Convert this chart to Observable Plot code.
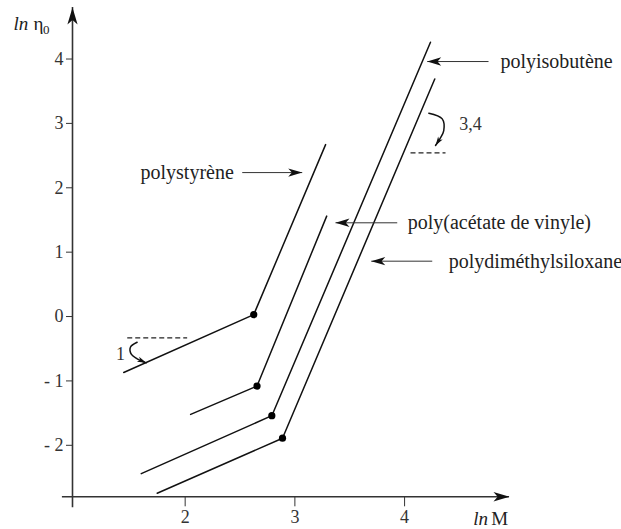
<!DOCTYPE html>
<html><head><meta charset="utf-8">
<script src="https://cdn.jsdelivr.net/npm/d3@7"></script>
<script src="https://cdn.jsdelivr.net/npm/@observablehq/plot@0.6"></script>
<style>body{margin:0;background:#fff}</style>
</head><body><div id="chart"></div>
<script>
// ---- data (ln M, ln eta0) ----
const polymers   = ["polystyrène", "poly(acétate de vinyle)", "polyisobutène", "polydiméthylsiloxane"];
const startLnM   = [1.44, 2.05, 1.60, 1.745];
const startLnEta = [-0.87, -1.52, -2.44, -2.745];
const kneeLnM    = [2.625, 2.655, 2.79, 2.887];
const kneeLnEta  = [0.03, -1.08, -1.54, -1.89];
const endLnM     = [3.28, 3.29, 4.236, 4.275];
const endLnEta   = [2.67, 1.56, 4.26, 3.69];

// label positions (data units)
const labelLnM      = [1.593, 4.029, 4.874, 4.403];
const labelLnEta    = [2.236, 1.456, 3.961, 0.860];
const arrowTailLnM  = [2.520, 3.933, 4.765, 4.252];
const arrowTipLnM   = [3.067, 3.370, 4.206, 3.696];

// ticks
const yTicks = [-2, -1, 0, 1, 2, 3, 4];
const xTicks = [2, 3, 4];

// slope annotations
const slopeLabels     = ["1", "3,4"];
const slopeLabelLnM   = [1.41, 4.60];
const slopeLabelLnEta = [-0.579, 2.994];
const dashFromLnM = [1.472, 4.054];
const dashToLnM   = [2.018, 4.373];
const dashLnEta   = [-0.330, 2.543];
const curve1LnM   = [1.562, 1.501, 1.510, 1.562, 1.645];
const curve1LnEta = [-0.399, -0.476, -0.589, -0.656, -0.719];
const curve2LnM   = [4.221, 4.343, 4.357, 4.323, 4.282];
const curve2LnEta = [3.158, 3.071, 2.889, 2.765, 2.657];

// axes extent
const xDomain = [0.973, 5.0];
const yDomain = [-2.8, 4.75];
const xAxisExtent = [0.881, 4.956];
const yAxisExtent = [-2.97, 4.80];

// ---- layout ----
const W = 621, H = 529, ML = 72, MR = 107.2, MT = 10.24, MB = 32.7;
const px = u => ML + (u - xDomain[0]) / (xDomain[1] - xDomain[0]) * (W - ML - MR);
const py = v => (H - MB) - (v - yDomain[0]) / (yDomain[1] - yDomain[0]) * (H - MT - MB);

function arrowSym(phi) {
  const c = Math.cos(phi), s = Math.sin(phi);
  const pts = [[0, 0], [0.3, 1], [0, 0.74], [-0.3, 1]];
  return {draw(ctx, size) {
    const L = Math.sqrt(size / Math.PI);
    pts.forEach(([a, b], i) => {
      const X = (a * c - b * s) * L, Y = (a * s + b * c) * L;
      i ? ctx.lineTo(X, Y) : ctx.moveTo(X, Y);
    });
    ctx.closePath();
  }};
}
function head(tipU, tipV, fromU, fromV, len) {
  const dx = px(tipU) - px(fromU), dy = py(tipV) - py(fromV);
  const phi = Math.atan2(dx, -dy);
  return Plot.dot([{x: tipU, y: tipV}], {x: "x", y: "y", r: len, symbol: arrowSym(phi), fill: "#111", stroke: "none"});
}

// ---- tables ----
const lineRows = polymers.flatMap((p, i) => [
  {p, x: startLnM[i], y: startLnEta[i]},
  {p, x: kneeLnM[i], y: kneeLnEta[i]},
  {p, x: endLnM[i], y: endLnEta[i]}
]);
const knees = polymers.map((p, i) => ({p, x: kneeLnM[i], y: kneeLnEta[i]}));
const labels = polymers.map((p, i) => ({p, x: labelLnM[i], y: labelLnEta[i], x1: arrowTailLnM[i], x2: arrowTipLnM[i]}));
const dashes = slopeLabels.map((s, i) => ({x1: dashFromLnM[i], x2: dashToLnM[i], y: dashLnEta[i]}));
const slopeText = slopeLabels.map((s, i) => ({s, x: slopeLabelLnM[i], y: slopeLabelLnEta[i]}));
const curves = [
  ...curve1LnM.map((x, i) => ({c: 1, x, y: curve1LnEta[i]})),
  ...curve2LnM.map((x, i) => ({c: 2, x, y: curve2LnEta[i]}))
];
const n1 = curve1LnM.length - 1, n2 = curve2LnM.length - 1;

const serif = "'Liberation Serif', 'Times New Roman', serif";
const fmtY = d => d < 0 ? "- " + (-d) : String(d);
const fmtX = d => String(d);

const heads = [
  head(xDomain[0], yAxisExtent[1], xDomain[0], yAxisExtent[0], 17),
  head(xAxisExtent[1], yDomain[0], xAxisExtent[0], yDomain[0], 16),
  ...labels.map(l => head(l.x2, l.y, l.x1, l.y, 14)),
  head(curve1LnM[n1], curve1LnEta[n1], curve1LnM[n1 - 1], curve1LnEta[n1 - 1], 9),
  head(curve2LnM[n2], curve2LnEta[n2], curve2LnM[n2 - 1], curve2LnEta[n2 - 1], 9)
];

const chart = Plot.plot({
  width: W, height: H,
  marginLeft: ML, marginRight: MR, marginTop: MT, marginBottom: MB,
  style: {fontFamily: serif, fontSize: "18px", color: "#333", background: "#fff", overflow: "visible"},
  x: {domain: xDomain, ticks: xTicks, tickSize: 10, tickPadding: 3, tickFormat: fmtX, label: null},
  y: {domain: yDomain, ticks: yTicks, tickSize: 6, tickPadding: 3, tickFormat: fmtY, label: null},
  marks: [
    Plot.ruleX([xDomain[0]], {y1: yAxisExtent[0], y2: yAxisExtent[1], stroke: "#333", strokeWidth: 1.6}),
    Plot.ruleY([yDomain[0]], {x1: xAxisExtent[0], x2: xAxisExtent[1], stroke: "#333", strokeWidth: 1.6}),
    Plot.line(lineRows, {x: "x", y: "y", z: "p", stroke: "#111", strokeWidth: 1.5}),
    Plot.dot(knees, {x: "x", y: "y", r: 3.6, fill: "#000"}),
    Plot.link(labels, {x1: "x1", x2: "x2", y1: "y", y2: "y", stroke: "#333", strokeWidth: 1}),
    Plot.text(labels, {x: "x", y: "y", text: "p", textAnchor: "start", fontSize: 20, fill: "#222"}),
    Plot.link(dashes, {x1: "x1", x2: "x2", y1: "y", y2: "y", stroke: "#222", strokeWidth: 1.2, strokeDasharray: "5,3"}),
    Plot.line(curves, {x: "x", y: "y", z: "c", curve: "catmull-rom", stroke: "#111", strokeWidth: 1.5}),
    Plot.text(slopeText, {x: "x", y: "y", text: "s", fontSize: 18, fill: "#333"}),
    ...heads,
    Plot.text([{x: 0.435, y: 4.552}], {x: "x", y: "y", text: () => "ln", textAnchor: "start", fontStyle: "italic", fontSize: 19, fill: "#222"}),
    Plot.text([{x: 0.617, y: 4.552}], {x: "x", y: "y", text: () => "η", textAnchor: "start", fontSize: 19, fill: "#222"}),
    Plot.text([{x: 0.703, y: 4.46}], {x: "x", y: "y", text: () => "0", textAnchor: "start", fontSize: 13, fill: "#222"}),
    Plot.text([{x: 4.625, y: -3.137}], {x: "x", y: "y", text: () => "ln", textAnchor: "start", fontStyle: "italic", fontSize: 19, fill: "#222"}),
    Plot.text([{x: 4.79, y: -3.137}], {x: "x", y: "y", text: () => "M", textAnchor: "start", fontSize: 19, fill: "#222"})
  ]
});
document.getElementById("chart").appendChild(chart);
</script></body></html>
